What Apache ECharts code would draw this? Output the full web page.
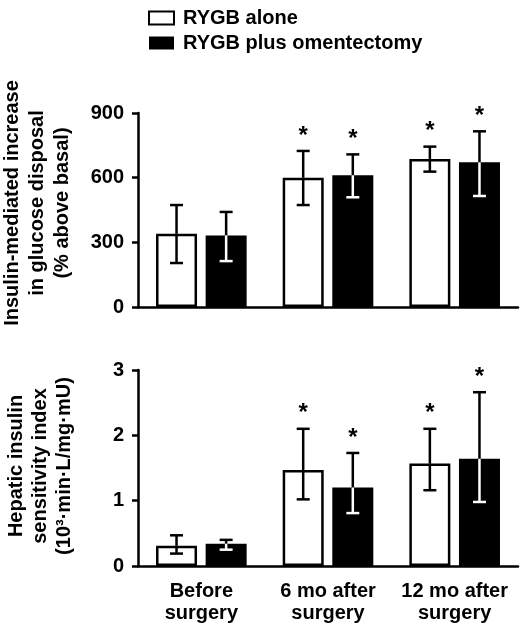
<!DOCTYPE html>
<html>
<head>
<meta charset="utf-8">
<script src="https://cdn.jsdelivr.net/npm/echarts@6/dist/echarts.min.js"></script>
<style>html,body{margin:0;padding:0;background:#fff}#c{width:521px;height:630px}</style>
</head>
<body>
<div id="c"></div>
<script>
// ---- data ----
const categories = ['Before\nsurgery', '6 mo after\nsurgery', '12 mo after\nsurgery'];
const seriesNames = ['RYGB alone', 'RYGB plus omentectomy'];

const glucoseAlone = [340, 600, 687];
const glucoseAloneLow = [204, 473, 628];
const glucoseAloneHigh = [473, 724, 744];
const glucoseOment = [332, 611, 671];
const glucoseOmentLow = [213, 509, 515];
const glucoseOmentHigh = [441, 708, 815];

const hepaticAlone = [0.31, 1.47, 1.57];
const hepaticAloneLow = [0.19, 1.02, 1.16];
const hepaticAloneHigh = [0.47, 2.10, 2.10];
const hepaticOment = [0.34, 1.20, 1.64];
const hepaticOmentLow = [0.25, 0.81, 0.98];
const hepaticOmentHigh = [0.40, 1.73, 2.66];

const significant = [false, true, true];

const glucoseTicks = { min: 0, max: 900, interval: 300 };
const hepaticTicks = { min: 0, max: 3, interval: 1 };

// ---- style ----
const FONT = "'Liberation Sans', Arial, sans-serif";
const BAR_W = 41;
const BAR_GAP = 0.21;
const LW = 2.5;

function errData(vals, lo, hi) {
  return vals.map((v, i) => [i, lo[i], hi[i], v, significant[i] ? 1 : 0]);
}

function makeRender(side, filled) {
  return function (params, api) {
    const i = api.value(0), lo = api.value(1), hi = api.value(2), v = api.value(3), sig = api.value(4);
    const pLo = api.coord([i, lo]);
    const pHi = api.coord([i, hi]);
    const pV = api.coord([i, v]);
    const off = side * BAR_W * (1 + BAR_GAP) / 2;
    const cx = pV[0] + off;
    const cap = 6.5;
    const inner = filled ? '#fff' : '#000';
    const children = [
      { type: 'line', shape: { x1: cx, y1: pHi[1], x2: cx, y2: pV[1] }, style: { stroke: '#000', lineWidth: LW } },
      { type: 'line', shape: { x1: cx, y1: pV[1], x2: cx, y2: pLo[1] }, style: { stroke: inner, lineWidth: LW } },
      { type: 'line', shape: { x1: cx - cap, y1: pHi[1], x2: cx + cap, y2: pHi[1] }, style: { stroke: '#000', lineWidth: LW } },
      { type: 'line', shape: { x1: cx - cap, y1: pLo[1], x2: cx + cap, y2: pLo[1] }, style: { stroke: inner, lineWidth: LW } }
    ];
    if (sig) {
      children.push({ type: 'text', style: { text: '*', x: cx, y: pHi[1] - 15, align: 'center', verticalAlign: 'middle', fontSize: 24, fontWeight: 'bold', fontFamily: FONT, fill: '#000' } });
    }
    return { type: 'group', children: children };
  };
}

const whiteStyle = { color: '#fff', borderColor: '#000', borderWidth: LW };
const blackStyle = { color: '#000', borderColor: '#000', borderWidth: LW };

function yAxisDef(grid, ticks, name, lh, gap, shift) {
  return {
    type: 'value', gridIndex: grid, min: ticks.min, max: ticks.max, interval: ticks.interval,
    name: name, nameLocation: 'middle', nameRotate: 90, nameGap: gap,
    nameTextStyle: { fontSize: 20, fontWeight: 'bold', fontFamily: FONT, color: '#000', lineHeight: lh, align: 'center', padding: [0, 0, 0, shift] },
    axisLine: { show: true, lineStyle: { color: '#000', width: LW } },
    axisTick: { show: true, inside: false, length: 6, lineStyle: { color: '#000', width: LW } },
    axisLabel: { fontSize: 20, fontWeight: 'bold', fontFamily: FONT, color: '#000', margin: 14 },
    splitLine: { show: false }
  };
}

const option = {
  backgroundColor: '#fff',
  animation: false,
  legend: {
    orient: 'vertical', left: 143, top: 3, itemWidth: 25, itemHeight: 13, itemGap: 5,
    icon: 'rect',
    textStyle: { fontSize: 20, fontWeight: 'bold', fontFamily: FONT, color: '#000', padding: [0, 0, 0, 4] },
    data: [
      { name: seriesNames[0], itemStyle: { color: '#fff', borderColor: '#000', borderWidth: 2 } },
      { name: seriesNames[1], itemStyle: { color: '#000', borderColor: '#000', borderWidth: 0 } }
    ]
  },
  grid: [
    { left: 138, top: 113, width: 380, height: 194, outerBoundsMode: 'none', containLabel: false },
    { left: 138, top: 370, width: 380, height: 196, outerBoundsMode: 'none', containLabel: false }
  ],
  xAxis: [
    { type: 'category', gridIndex: 0, data: categories,
      axisLine: { show: true, lineStyle: { color: '#000', width: LW } }, axisTick: { show: false }, axisLabel: { show: false } },
    { type: 'category', gridIndex: 1, data: categories,
      axisLine: { show: true, lineStyle: { color: '#000', width: LW } }, axisTick: { show: false },
      axisLabel: { interval: 0, fontSize: 20, fontWeight: 'bold', fontFamily: FONT, color: '#000', lineHeight: 22, margin: 14 } }
  ],
  yAxis: [
    yAxisDef(0, glucoseTicks, 'Insulin-mediated increase\nin glucose disposal\n(% above basal)', 25, 63, 14),
    yAxisDef(1, hepaticTicks, 'Hepatic insulin\nsensitivity index\n(10³·min·L/mg·mU)', 24, 62, 4)
  ],
  series: [
    { name: seriesNames[0], type: 'bar', xAxisIndex: 0, yAxisIndex: 0, data: glucoseAlone, barWidth: BAR_W, barGap: (BAR_GAP * 100) + '%', itemStyle: whiteStyle },
    { name: seriesNames[1], type: 'bar', xAxisIndex: 0, yAxisIndex: 0, data: glucoseOment, barWidth: BAR_W, barGap: (BAR_GAP * 100) + '%', itemStyle: blackStyle },
    { name: seriesNames[0], type: 'bar', xAxisIndex: 1, yAxisIndex: 1, data: hepaticAlone, barWidth: BAR_W, barGap: (BAR_GAP * 100) + '%', itemStyle: whiteStyle },
    { name: seriesNames[1], type: 'bar', xAxisIndex: 1, yAxisIndex: 1, data: hepaticOment, barWidth: BAR_W, barGap: (BAR_GAP * 100) + '%', itemStyle: blackStyle },
    { type: 'custom', xAxisIndex: 0, yAxisIndex: 0, renderItem: makeRender(-1, false), data: errData(glucoseAlone, glucoseAloneLow, glucoseAloneHigh), z: 5 },
    { type: 'custom', xAxisIndex: 0, yAxisIndex: 0, renderItem: makeRender(1, true), data: errData(glucoseOment, glucoseOmentLow, glucoseOmentHigh), z: 5 },
    { type: 'custom', xAxisIndex: 1, yAxisIndex: 1, renderItem: makeRender(-1, false), data: errData(hepaticAlone, hepaticAloneLow, hepaticAloneHigh), z: 5 },
    { type: 'custom', xAxisIndex: 1, yAxisIndex: 1, renderItem: makeRender(1, true), data: errData(hepaticOment, hepaticOmentLow, hepaticOmentHigh), z: 5 }
  ]
};

const chart = echarts.init(document.getElementById('c'), null, { renderer: 'canvas' });
chart.setOption(option);
</script>
</body>
</html>
